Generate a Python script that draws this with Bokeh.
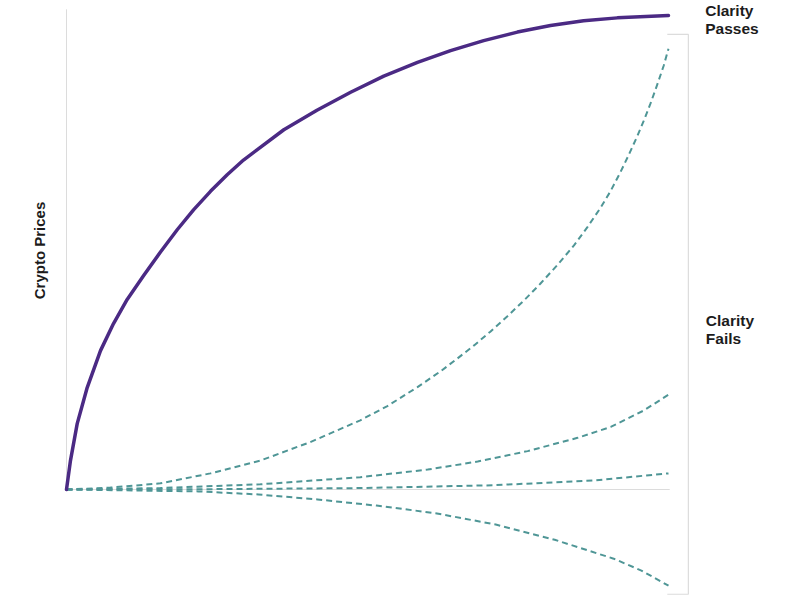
from bokeh.plotting import figure
from bokeh.models import Range1d
from bokeh.core.properties import value
from bokeh.embed import file_html
from bokeh.resources import INLINE
import math

# --- data ---
pass_x = [0, 0.66, 1.78, 3.44, 5.65, 7.81, 10.08, 12.79, 15.61, 18.39, 21.10, 23.92,
          26.69, 29.40, 36.1, 41.6, 47.2, 52.7, 58.3, 63.8, 69.3, 74.9,
          80.4, 85.9, 91.5, 100]
pass_y = [0, 6.1, 13.9, 21.5, 29.3, 35.0, 40.1, 45.1, 50.1, 54.8, 59.0, 62.9,
          66.4, 69.5, 75.9, 80.0, 83.8, 87.2, 90.1, 92.6, 94.7, 96.5,
          97.9, 98.9, 99.5, 100]

fail_a_x = [0, 7.3, 15.6, 23.9, 32.2, 40.5, 48.8, 53.3, 58.3, 62.1, 64.9, 67.7, 70.4,
            73.2, 76.0, 78.7, 81.5, 84.3, 86.5, 88.7, 90.4, 92.0, 93.4, 94.8, 95.9,
            97.0, 98.1, 99.2, 100]
fail_a_y = [0, 0.4, 1.3, 3.4, 6.1, 10.0, 14.6, 17.6, 21.6, 24.9, 27.6, 30.4, 33.3,
            36.5, 39.9, 43.4, 47.3, 51.5, 55.3, 59.4, 63.0, 66.9, 70.6, 74.5, 77.8,
            81.4, 85.3, 89.4, 93.0]

fail_b_x = [0, 15.6, 32.2, 48.8, 60.0, 68.3, 76.6, 84.9, 90.4, 95.8, 100]
fail_b_y = [0, 0.3, 1.1, 2.6, 4.2, 5.9, 8.1, 10.9, 13.2, 16.6, 20.0]

fail_c_x = [0, 25.0, 48.8, 70.9, 87.5, 100]
fail_c_y = [0, 0.08, 0.3, 0.9, 1.9, 3.4]

fail_d_x = [0, 21.9, 31.9, 41.7, 51.5, 61.3, 71.3, 81.1, 90.9, 95.5, 100]
fail_d_y = [0, -0.4, -1.05, -2.1, -3.4, -5.0, -7.4, -10.6, -14.6, -17.1, -20.3]

y_label = "Crypto Prices"
pass_label = ["Clarity", "Passes"]
fail_label = ["Clarity", "Fails"]

PURPLE = "#4b2a84"
TEAL = "#4f9696"
GREY = "#dcdcdc"
TXT = "#1c1c1c"
FONT = value("Liberation Sans")

W, H = 800, 600
X0, Y0 = 66.0, 489.0      # pixel position of data origin
SX, SY = 6.02, 4.74       # pixels per data unit

p = figure(width=W, height=H, output_backend="svg", toolbar_location=None,
           x_axis_type=None, y_axis_type=None,
           x_range=Range1d(-X0 / SX, (W - X0) / SX),
           y_range=Range1d(-(H - Y0) / SY, Y0 / SY),
           min_border=0, min_border_left=0, min_border_right=0,
           min_border_top=0, min_border_bottom=0)
p.outline_line_color = None
p.background_fill_color = "white"
p.border_fill_color = "white"

# axis lines
p.line([0, 0], [0, 101.3], line_color=GREY, line_width=1)
p.line([0, 100.2], [0, 0], line_color=GREY, line_width=1.2)

# bracket on the right
p.line([99.8, 103.3, 103.3, 99.8], [96.0, 96.0, -22.1, -22.1], line_color=GREY, line_width=1.2)

for xs, ys in ((fail_d_x, fail_d_y), (fail_c_x, fail_c_y),
               (fail_b_x, fail_b_y), (fail_a_x, fail_a_y)):
    p.line(xs, ys, line_color=TEAL, line_width=2, line_dash="6 4", line_join="round")

p.line(pass_x, pass_y, line_color=PURPLE, line_width=3.5, line_cap="round", line_join="round")

# labels
p.text(x=[106.1, 106.1], y=[101.06, 97.26], text=pass_label, text_font=FONT,
       text_font_style="bold", text_font_size="15.5px", text_color=TXT,
       text_baseline="alphabetic", text_align="left")
p.text(x=[106.2, 106.2], y=[35.72, 31.86], text=fail_label, text_font=FONT,
       text_font_style="bold", text_font_size="15.5px", text_color=TXT,
       text_baseline="alphabetic", text_align="left")
p.text(x=[-4.45], y=[50.42], text=[y_label], angle=math.pi / 2, text_font=FONT,
       text_font_style="bold", text_font_size="15px", text_color=TXT,
       text_baseline="alphabetic", text_align="center")

open("out.html", "w").write(file_html(p, INLINE))
